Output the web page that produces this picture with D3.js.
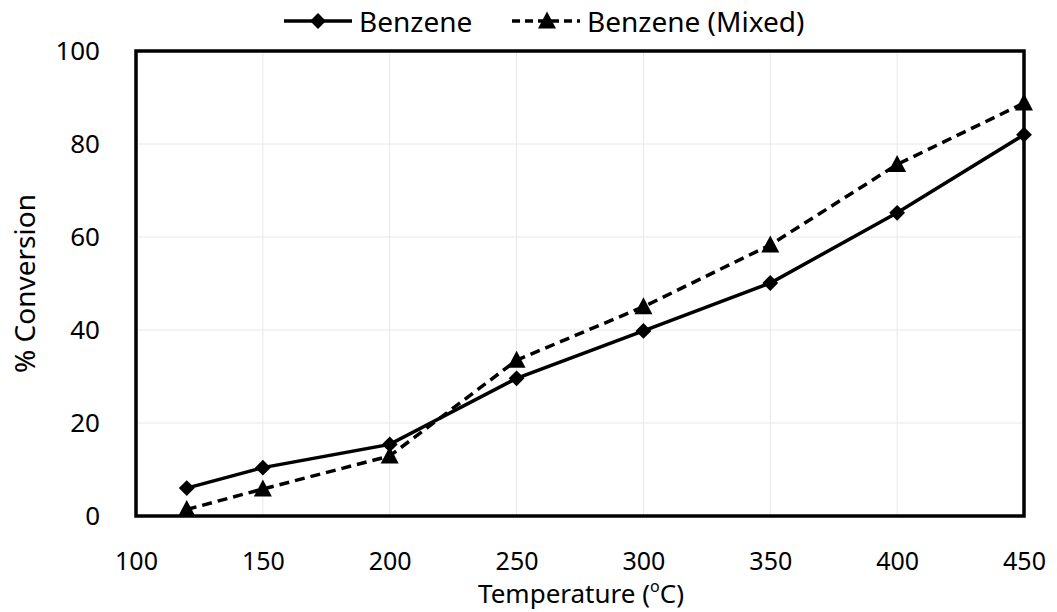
<!DOCTYPE html>
<html>
<head>
<meta charset="utf-8">
<script src="https://cdn.jsdelivr.net/npm/d3@7"></script>
<style>
  body { margin: 0; background: #fff; }
  text { font-family: "Noto Sans", sans-serif; fill: #000; }
</style>
</head>
<body>
<div id="chart"></div>
<script>
let width = 1057;
let height = 612;

// data
let temps = [120, 150, 200, 250, 300, 350, 400, 450];
let benzene = [6, 10.4, 15.4, 29.6, 39.8, 50.1, 65.2, 82];
let benzeneMixed = [1.4, 5.8, 12.9, 33.5, 45, 58.3, 75.6, 88.8];
let xTicks = [100, 150, 200, 250, 300, 350, 400, 450];
let yTicks = [0, 20, 40, 60, 80, 100];

let padLeft = 136, padRight = 1024, padTop = 51, padBottom = 516;

let svg = d3.select("#chart")
  .append("svg")
    .attr("width", width)
    .attr("height", height);

let xScale = d3.scaleLinear().domain([100, 450]).range([padLeft, padRight]);
let yScale = d3.scaleLinear().domain([0, 100]).range([padBottom, padTop]);

// grid
svg.append("g").selectAll("line").data(xTicks.slice(1, -1)).enter()
  .append("line")
    .attr("x1", d => xScale(d)).attr("x2", d => xScale(d))
    .attr("y1", padTop).attr("y2", padBottom)
    .attr("stroke", "#e8e8e8").attr("stroke-width", 1);
svg.append("g").selectAll("line").data(yTicks.slice(1, -1)).enter()
  .append("line")
    .attr("x1", padLeft).attr("x2", padRight)
    .attr("y1", d => yScale(d)).attr("y2", d => yScale(d))
    .attr("stroke", "#e8e8e8").attr("stroke-width", 1);

// axes (labels only, frame drawn separately)
let xAxis = d3.axisBottom(xScale).tickValues(xTicks).tickSize(0).tickPadding(36);
let xg = svg.append("g").attr("transform", "translate(0," + padBottom + ")").call(xAxis);
xg.select(".domain").remove();
xg.selectAll("text").style("font-size", "25px").attr("fill", "#000");

let yAxis = d3.axisLeft(yScale).tickValues(yTicks).tickSize(0).tickPadding(36);
let yg = svg.append("g").attr("transform", "translate(" + padLeft + ",0)").call(yAxis);
yg.select(".domain").remove();
yg.selectAll("text").style("font-size", "26px").attr("fill", "#000");

// frame
svg.append("rect")
  .attr("x", padLeft).attr("y", padTop)
  .attr("width", padRight - padLeft).attr("height", padBottom - padTop)
  .attr("fill", "none").attr("stroke", "#000").attr("stroke-width", 3.5);

let line = d3.line().x((d, i) => xScale(temps[i])).y(d => yScale(d));

let diamond = d3.symbol().type(d3.symbolDiamond2).size(160);
let triangle = "M0,-9.5L9,7.5L-9,7.5Z";

// Benzene (mixed) dashed
svg.append("path")
  .attr("d", line(benzeneMixed))
  .attr("fill", "none").attr("stroke", "#000")
  .attr("stroke-width", 3.5).attr("stroke-dasharray", "10,6");
svg.selectAll(".tri").data(benzeneMixed).enter()
  .append("path")
    .attr("class", "tri")
    .attr("d", triangle)
    .attr("transform", (d, i) => "translate(" + xScale(temps[i]) + "," + yScale(d) + ")")
    .attr("fill", "#000");

// Benzene solid
svg.append("path")
  .attr("d", line(benzene))
  .attr("fill", "none").attr("stroke", "#000").attr("stroke-width", 3.5);
svg.selectAll(".dia").data(benzene).enter()
  .append("path")
    .attr("class", "dia")
    .attr("d", diamond)
    .attr("transform", (d, i) => "translate(" + xScale(temps[i]) + "," + yScale(d) + ")")
    .attr("fill", "#000");

// axis titles
let xt = svg.append("text")
  .attr("x", 581).attr("y", 603)
  .attr("text-anchor", "middle")
  .style("font-size", "26px")
  .text("Temperature (");
xt.append("tspan").attr("baseline-shift", "super").style("font-size", "16px").text("o");
xt.append("tspan").text("C)");

svg.append("text")
  .attr("transform", "translate(35," + ((padTop + padBottom) / 2) + ") rotate(-90)")
  .attr("text-anchor", "middle")
  .style("font-size", "28px")
  .text("% Conversion");

// legend
let lg = svg.append("g").attr("transform", "translate(0,21)");
lg.append("line").attr("x1", 284).attr("x2", 352).attr("y1", 0).attr("y2", 0)
  .attr("stroke", "#000").attr("stroke-width", 3.5);
lg.append("path").attr("d", diamond).attr("transform", "translate(318,0)");
lg.append("text").attr("x", 359).attr("y", 11).style("font-size", "28px").text("Benzene");

lg.append("line").attr("x1", 512).attr("x2", 580).attr("y1", 0).attr("y2", 0)
  .attr("stroke", "#000").attr("stroke-width", 3.5).attr("stroke-dasharray", "8,5");
lg.append("path").attr("d", triangle).attr("transform", "translate(547,0)");
lg.append("text").attr("x", 587).attr("y", 11).style("font-size", "28px").text("Benzene (Mixed)");
</script>
</body>
</html>
